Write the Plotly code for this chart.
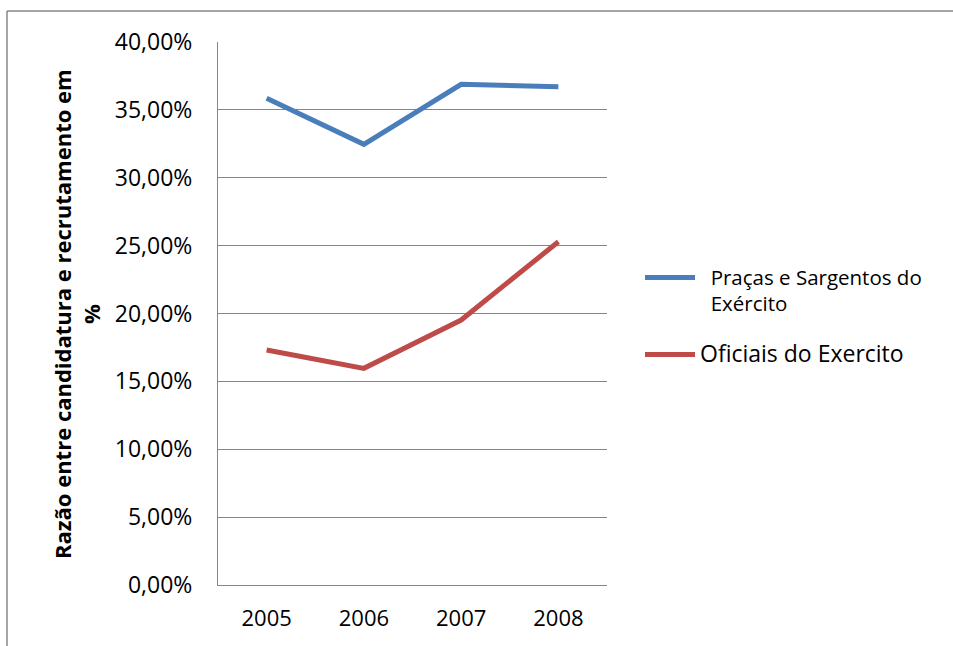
import plotly.graph_objects as go

# Ratio between applications and recruitment, by year
years = ["2005", "2006", "2007", "2008"]
pracas_sargentos = [0.3585, 0.3246, 0.3688, 0.3671]
oficiais = [0.1731, 0.1596, 0.1952, 0.2529]

series_names = [
    "<span style='font-size:20.5px'>\u00a0\u00a0Praças e Sargentos do<br>\u00a0\u00a0Exército</span>",
    "<span style='font-size:23px'>Oficiais do Exercito</span>",
]
series_colors = ["#4A7EBB", "#BE4B48"]

W, H = 953, 646
L, R, T, B = 218, 346, 42, 61
plot_w, plot_h = W - L - R, H - T - B


def px_x(px):
    return (px - L) / plot_w


def px_y(py):
    return (H - B - py) / plot_h


fig = go.Figure()
for i, (vals, name, color) in enumerate(zip([pracas_sargentos, oficiais], series_names, series_colors)):
    fig.add_trace(go.Scatter(
        x=years, y=vals, name=name, mode="lines", legendgroup=f"g{i}",
        line=dict(color=color, width=5),
    ))

grid = "#868686"
fig.update_layout(
    width=W, height=H,
    margin=dict(l=L, r=R, t=T, b=B),
    paper_bgcolor="white", plot_bgcolor="white",
    separators=",.",
    font=dict(family="Open Sans, sans-serif", color="black"),
    showlegend=True,
    legend=dict(
        x=px_x(640), y=px_y(258), xanchor="left", yanchor="top",
        font=dict(size=20), valign="top", tracegroupgap=22,
        itemwidth=50, bgcolor="rgba(0,0,0,0)",
    ),
    xaxis=dict(
        type="category", range=[-0.5, 3.5],
        showline=True, linecolor=grid, linewidth=1,
        showgrid=False, ticks="", tickfont=dict(size=22),
        ticklabelstandoff=14,
    ),
    yaxis=dict(
        range=[0, 0.4], dtick=0.05, tickformat=".2%",
        showline=True, linecolor=grid, linewidth=1,
        showgrid=True, gridcolor=grid, gridwidth=1,
        zeroline=False, ticks="", tickfont=dict(size=23),
        ticklabelstandoff=20,
    ),
    annotations=[dict(
        text="<b>Razão entre candidatura e recrutamento em<br>%</b>",
        xref="paper", yref="paper", x=px_x(76), y=px_y(314),
        xanchor="center", yanchor="middle", textangle=-90,
        showarrow=False, font=dict(size=22, family="Open Sans, sans-serif"),
    )],
    shapes=[
        dict(type="line", xref="paper", yref="paper",
             x0=px_x(7), x1=px_x(953), y0=px_y(11), y1=px_y(11),
             line=dict(color="#878787", width=1.5)),
        dict(type="line", xref="paper", yref="paper",
             x0=px_x(7), x1=px_x(7), y0=px_y(11), y1=px_y(646),
             line=dict(color="#878787", width=1.5)),
    ],
)

fig.write_html("out.html")
